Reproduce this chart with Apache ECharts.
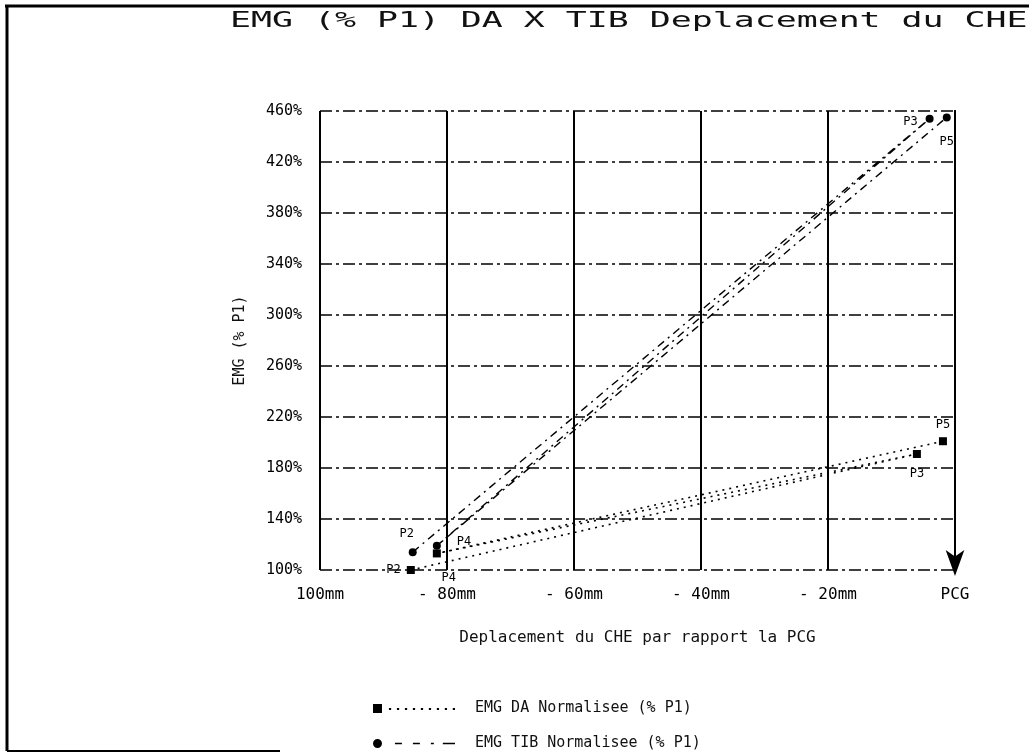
<!DOCTYPE html>
<html>
<head>
<meta charset="utf-8">
<script src="https://cdn.jsdelivr.net/npm/echarts@6/dist/echarts.min.js"></script>
<style>html,body{margin:0;padding:0;background:#fff}#c{width:1029px;height:753px}</style>
</head>
<body>
<div id="c"></div>
<script>
// ---- data ----
const titleText = 'EMG (% P1) DA X TIB Deplacement du CHE';
const xName = 'Deplacement du CHE par rapport la PCG';
const yName = 'EMG (% P1)';
const xTickValues = [-100, -80, -60, -40, -20, 0];
const xTickLabels = ['100mm', '- 80mm', '- 60mm', '- 40mm', '- 20mm', 'PCG'];
const yTickValues = [100, 140, 180, 220, 260, 300, 340, 380, 420, 460];
const yTickLabels = ['100%', '140%', '180%', '220%', '260%', '300%', '340%', '380%', '420%', '460%'];
const pointNames = ['P2', 'P3', 'P4', 'P5'];
const daX = [-85.7, -6.0, -81.6, -1.9];
const daY = [100, 191, 113, 201];
const tibX = [-85.4, -4.0, -81.6, -1.3];
const tibY = [114, 454, 119, 455];
const legendNames = ['EMG DA Normalisee (% P1)', 'EMG TIB Normalisee (% P1)'];

// ---- chart ----
const chart = echarts.init(document.getElementById('c'), null, {renderer: 'canvas'});
const mono = 'DejaVu Sans Mono';

function pts(xs, ys) { return xs.map((x, i) => [x, ys[i]]); }

const daLabelPos = {P2: {position: 'left', distance: 6}, P3: {position: 'bottom', distance: 10},
  P4: {position: 'bottom', offset: [12, 6], distance: 8}, P5: {position: 'top', distance: 6}};
const tibLabelPos = {P2: {position: 'top', offset: [-6, -2], distance: 6}, P3: {position: 'left', offset: [-2, 3], distance: 6},
  P4: {position: 'right', offset: [10, -4], distance: 6}, P5: {position: 'bottom', offset: [0, 8], distance: 6}};

function makeData(xs, ys, posMap) {
  return pts(xs, ys).map((p, i) => ({
    value: p,
    label: Object.assign({show: true, formatter: pointNames[i]}, posMap[pointNames[i]])
  }));
}

// legend icons: marker at left followed by line sample
let daIcon = 'path://M0,0h9v9h-9z';
for (let x = 16; x <= 80; x += 8) daIcon += ' M' + x + ',4h2.2v2h-2.2z';
let tibIcon = 'path://M0,4.5a4.5,4.5 0 1,0 9,0a4.5,4.5 0 1,0 -9,0z';
const dashes = [[22, 7], [40, 7], [58, 3], [70, 12.2]];
dashes.forEach(d => { tibIcon += ' M' + d[0] + ',3.7h' + d[1] + 'v1.6h-' + d[1] + 'z'; });

const option = {
  backgroundColor: '#fff',
  animation: false,
  grid: {left: 320, right: 74, top: 111, bottom: 183, containLabel: false},
  legend: {
    orient: 'vertical', left: 373, top: 701, itemGap: 20, padding: 0,
    itemWidth: 82, itemHeight: 9,
    textStyle: {fontFamily: mono, fontSize: 15, color: '#111', lineHeight: 14, padding: [0, 0, 0, 15]},
    data: [
      {name: legendNames[0], icon: daIcon},
      {name: legendNames[1], icon: tibIcon}
    ],
    itemStyle: {color: '#000', borderWidth: 0},
    lineStyle: {width: 0},
    selectedMode: false
  },
  xAxis: {
    type: 'value', min: -100, max: 0, interval: 20,
    name: xName, nameLocation: 'middle', nameGap: 60, nameMoveOverlap: false,
    nameTextStyle: {fontFamily: mono, fontSize: 16, color: '#111'},
    axisLine: {show: false},
    axisTick: {show: false},
    axisLabel: {
      margin: 17, fontFamily: mono, fontSize: 16, color: '#000',
      formatter: v => { const i = xTickValues.indexOf(Math.round(v)); return i >= 0 ? xTickLabels[i] : ''; }
    },
    splitLine: {show: true, lineStyle: {color: '#000', width: 2, type: 'solid'}}
  },
  yAxis: [{
    type: 'value', min: 100, max: 460, interval: 40,
    name: yName, nameLocation: 'middle', nameGap: 72, nameRotate: 90, nameMoveOverlap: false,
    nameTextStyle: {fontFamily: mono, fontSize: 15, color: '#111'},
    axisLine: {show: true, lineStyle: {color: '#000', width: 2}},
    axisTick: {show: false},
    axisLabel: {
      margin: 18, fontFamily: mono, fontSize: 15, color: '#000',
      formatter: v => { const i = yTickValues.indexOf(Math.round(v)); return i >= 0 ? yTickLabels[i] : ''; }
    },
    splitLine: {show: true, lineStyle: {color: '#000', width: 1.5, type: [12, 4, 3, 4]}}
  }, {
    type: 'value', min: 100, max: 460, interval: 40, position: 'right',
    axisLine: {show: true, lineStyle: {color: '#000', width: 2}, symbol: ['arrow', 'none'], symbolSize: [14, 26], symbolOffset: [-6, 0]},
    axisTick: {show: false}, axisLabel: {show: false}, splitLine: {show: false}
  }],
  series: [{
    name: legendNames[0], type: 'line', yAxisIndex: 0,
    data: makeData(daX, daY, daLabelPos),
    symbol: 'rect', symbolSize: 8,
    itemStyle: {color: '#000'},
    lineStyle: {color: '#000', width: 1.6, type: [2, 5]},
    label: {fontFamily: mono, fontSize: 12, color: '#000'},
    z: 5
  }, {
    name: legendNames[1], type: 'line', yAxisIndex: 0,
    data: makeData(tibX, tibY, tibLabelPos),
    symbol: 'circle', symbolSize: 8,
    itemStyle: {color: '#000'},
    lineStyle: {color: '#000', width: 1.4, type: [8, 5, 2, 5]},
    label: {fontFamily: mono, fontSize: 12, color: '#000'},
    z: 5
  }],
  graphic: [
    {type: 'text', x: 230, y: 11, scaleX: 1.66, style: {text: titleText, font: '21px "DejaVu Sans Mono"', fill: '#111', textAlign: 'left', textVerticalAlign: 'top'}},
    {type: 'line', shape: {x1: 5, y1: 6, x2: 1029, y2: 6}, style: {stroke: '#000', lineWidth: 3}},
    {type: 'line', shape: {x1: 7, y1: 6, x2: 7, y2: 751}, style: {stroke: '#000', lineWidth: 3}},
    {type: 'line', shape: {x1: 7, y1: 751, x2: 280, y2: 751}, style: {stroke: '#000', lineWidth: 2}}
  ]
};
chart.setOption(option);
</script>
</body>
</html>
